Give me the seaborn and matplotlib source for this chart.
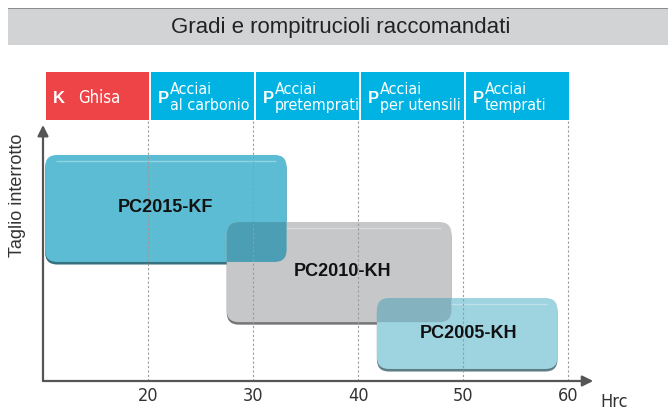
import matplotlib

matplotlib.use("Agg")
import matplotlib.pyplot as plt
import seaborn as sns
from matplotlib.colors import to_rgb
from matplotlib.patches import FancyBboxPatch, Rectangle

# chart data
grades = ["PC2015-KF", "PC2010-KH", "PC2005-KH"]
hrc_min = [10.2, 27.5, 41.8]
hrc_max = [33.2, 48.9, 59.0]
cut_min = [46.5, 23.0, 4.7]
cut_max = [88.3, 62.1, 32.4]
label_x = [21.7, 38.5, 50.5]
label_y = [67.6, 42.6, 18.4]
grade_colors = ["#5BBCD3", "#C6C7C9", "#9ED3E0"]

groups = ["K", "P", "P", "P", "P"]
materials = ["Ghisa", "Acciai\nal carbonio", "Acciai\npretemprati",
             "Acciai\nper utensili", "Acciai\ntemprati"]
group_lo = [10, 20, 30, 40, 50]
group_hi = [20, 30, 40, 50, 60]
group_colors = {"K": "#EE4347", "P": "#00B3E3"}

hrc_ticks = [20, 30, 40, 50, 60]

TITLE = "Gradi e rompitrucioli raccomandati"
NARROW = dict(family=["DejaVu Sans"], fontstretch="condensed")

sns.set_theme(style="white")
plt.rcParams["font.family"] = ["Liberation Sans", "DejaVu Sans"]

W, H = 668, 412
PX_X = 10.5   # pixels per Hrc unit
PX_Y = 2.56   # pixels per cut unit
x_lo, x_hi = 10 - 43 / PX_X, 10 + (W - 43) / PX_X
y_top = (381 - 50) / PX_Y
ASPECT = (1 / PX_Y) / (1 / PX_X)


def rounded(x0, y0, x1, y1, color, z, r=1.15, dy=0.0):
    return FancyBboxPatch(
        (x0, y0 - dy), x1 - x0, y1 - y0,
        boxstyle=f"round,pad=0,rounding_size={r}",
        mutation_aspect=ASPECT, fc=color, ec="none", zorder=z,
    )


def multiply(c1, c2):
    a, b = to_rgb(c1), to_rgb(c2)
    return tuple(min(1.0, 1.08 * p * q) for p, q in zip(a, b))


fig = plt.figure(figsize=(W / 100, H / 100), dpi=100)
ax = fig.add_axes([0, 31 / H, 1, 331 / H])
ax.set_xlim(x_lo, x_hi)
ax.set_ylim(0, y_top)
sns.despine(ax=ax, left=True, bottom=True)

# title band
fig.patches.append(Rectangle((8 / W, (H - 45) / H), 1, 37 / H,
                             transform=fig.transFigure, fc="#D2D3D5", ec="none"))
fig.patches.append(Rectangle((8 / W, (H - 9) / H), 1, 1.2 / H,
                             transform=fig.transFigure, fc="#8C8C8C", ec="none"))
fig.text(341 / W, (H - 27) / H, TITLE, ha="center", va="center",
         fontsize=16, color="#222222")

# material header
for g, mat, lo, hi in zip(groups, materials, group_lo, group_hi):
    ax.add_patch(Rectangle((lo + 0.33, 101.9), hi - lo - 0.28, 18.8,
                           fc=group_colors[g], ec="none", zorder=2))
    ax.text(lo + 0.9, 110.4, g, color="white", fontsize=12, fontweight="bold",
            va="center", ha="left", zorder=3)
    if g == "K":
        ax.text(lo + 3.3, 110.6, mat, color="white", fontsize=12,
                va="center", ha="left", zorder=3, **NARROW)
    else:
        ax.text(lo + 2.05, 110.9, mat, color="white", fontsize=11.5,
                va="center", ha="left", linespacing=1.08, zorder=3, **NARROW)

# grade boxes
patches = []
for i, (x0, x1, y0, y1, c) in enumerate(zip(hrc_min, hrc_max, cut_min, cut_max, grade_colors)):
    shade = tuple(0.6 * v for v in to_rgb(c))
    ax.add_patch(rounded(x0, y0, x1, y1, shade, 2 + i - 0.2, dy=1.0))
    p = rounded(x0, y0, x1, y1, c, 2 + i)
    ax.add_patch(p)
    patches.append(p)
    ax.hlines(y1 - 2.3, x0 + 1.0, x1 - 1.0, colors="white", alpha=0.35,
              lw=1, zorder=2 + i + 0.1)

# darker overlap where boxes cross
for i in range(len(grades)):
    for j in range(i + 1, len(grades)):
        over = rounded(hrc_min[j], cut_min[j], hrc_max[j], cut_max[j],
                       multiply(grade_colors[i], grade_colors[j]), 2 + j + 0.5)
        ax.add_patch(over)
        over.set_clip_path(patches[i])

for g, lx, ly in zip(grades, label_x, label_y):
    ax.text(lx, ly, g, ha="center", va="center", fontsize=13,
            fontweight="bold", color="#111111", zorder=7)

# grid
ax.vlines(hrc_ticks, 0, 101.9, colors="#9A9A9A", lw=0.8,
          linestyles=(0, (2, 2)), zorder=6)

# axis arrows
arrow = dict(arrowstyle="-|>", color="#555555", lw=1.6, mutation_scale=16,
             shrinkA=0, shrinkB=0, clip_on=False)
ax.annotate("", xy=(62.4, 0), xytext=(10, 0), arrowprops=arrow, zorder=8)
ax.annotate("", xy=(10, 100), xytext=(10, 0), arrowprops=arrow, zorder=8)

ax.set_xticks(hrc_ticks, labels=[str(t) for t in hrc_ticks], fontsize=13,
              color="#333333", **NARROW)
ax.set_yticks([])
ax.tick_params(axis="x", length=0, pad=4)
ax.grid(False)

ax.text(10 - 25 / PX_X, (381 - 195) / PX_Y, "Taglio interrotto", rotation=90,
        ha="center", va="center", fontsize=13, color="#333333")
ax.text(10 + (600 - 43) / PX_X, -(402 - 381) / PX_Y, "Hrc", ha="left",
        va="center", fontsize=13, color="#333333", **NARROW)

fig.savefig("out.png", dpi=100)
